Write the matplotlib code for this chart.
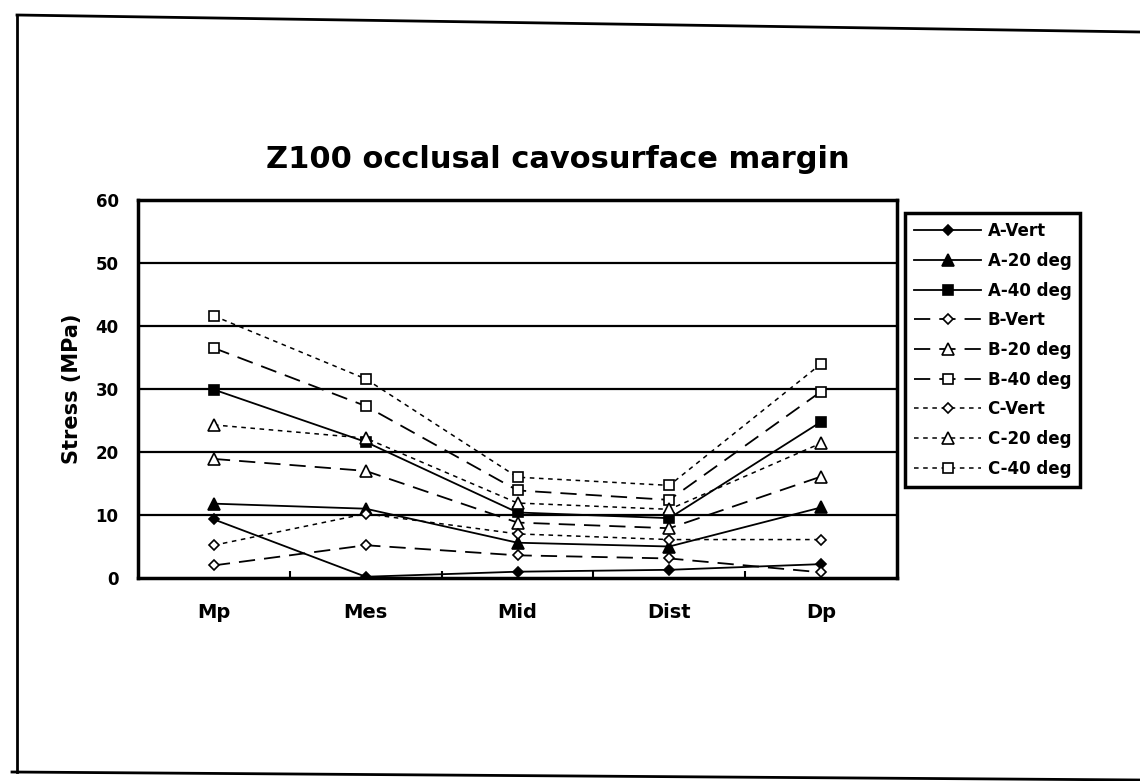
import matplotlib
matplotlib.use('Agg')
import matplotlib.pyplot as plt
from matplotlib.lines import Line2D

plt.rcParams['font.family'] = ['DejaVu Sans']
plt.rcParams['font.weight'] = 'bold'

# Data
positions = ["Mp", "Mes", "Mid", "Dist", "Dp"]
a_vert = [9.3, 0.2, 1.0, 1.3, 2.2]
a_20 = [11.8, 11.0, 5.6, 5.0, 11.2]
a_40 = [29.9, 21.6, 10.4, 9.5, 24.8]
b_vert = [2.0, 5.2, 3.6, 3.1, 0.9]
b_20 = [18.9, 17.0, 8.8, 7.9, 16.1]
b_40 = [36.5, 27.3, 13.9, 12.4, 29.6]
c_vert = [5.2, 10.2, 7.0, 6.1, 6.1]
c_20 = [24.3, 22.2, 11.9, 10.9, 21.4]
c_40 = [41.6, 31.6, 16.0, 14.7, 34.0]

labels = ["A-Vert", "A-20 deg", "A-40 deg", "B-Vert", "B-20 deg",
          "B-40 deg", "C-Vert", "C-20 deg", "C-40 deg"]
series = [a_vert, a_20, a_40, b_vert, b_20, b_40, c_vert, c_20, c_40]

fig = plt.figure(figsize=(11.4, 7.81), dpi=100)
ax = fig.add_axes([138 / 1140, 1 - 578 / 781, (897 - 138) / 1140, (578 - 200) / 781])

x = list(range(len(positions)))
markers = ['D', '^', 's'] * 3
msizes = [5, 8, 7] * 3
for i, (vals, lab) in enumerate(zip(series, labels)):
    group = i // 3
    if group == 0:
        ls, fc, lw = '-', 'black', 1.3
    elif group == 1:
        ls, fc, lw = (0, (9, 5)), 'white', 1.3
    else:
        ls, fc, lw = (0, (3, 3)), 'white', 1.1
    ax.plot(x, vals, linestyle=ls, color='black', linewidth=lw,
            marker=markers[i], markersize=msizes[i], markerfacecolor=fc,
            markeredgecolor='black', markeredgewidth=1.2, label=lab, zorder=3)

ax.set_xlim(-0.5, 4.5)
ax.set_ylim(0, 60)
ax.set_yticks(range(0, 61, 10))
ax.set_xticks(x)
ax.set_xticklabels(positions)
ax.set_xticks([0.5, 1.5, 2.5, 3.5], minor=True)
ax.tick_params(axis='x', which='minor', direction='in', length=5, width=1.5)
ax.tick_params(axis='x', which='major', length=0, pad=18, labelsize=14)
ax.tick_params(axis='y', length=0, pad=14, labelsize=12)
for lab in ax.get_xticklabels() + ax.get_yticklabels():
    lab.set_fontweight('bold')

for yv in range(10, 60, 10):
    ax.axhline(yv, color='black', linewidth=1.6, zorder=1)
for sp in ax.spines.values():
    sp.set_linewidth(2.5)

ax.set_ylabel("Stress (MPa)", fontsize=15, fontweight='bold', labelpad=10)
fig.text(558 / 1140, 1 - 160 / 781, "Z100 occlusal cavosurface margin",
         ha='center', va='center', fontsize=22, fontweight='bold')

leg = ax.legend(loc='upper left', bbox_to_anchor=(905 / 1140, 1 - 213 / 781),
                bbox_transform=fig.transFigure, frameon=True, fancybox=False,
                edgecolor='black', framealpha=1, fontsize=12, handlelength=4.0,
                labelspacing=0.7, borderpad=0.55, handletextpad=0.4,
                borderaxespad=0)
leg.get_frame().set_linewidth(2.5)
for t in leg.get_texts():
    t.set_fontweight('bold')

# scanned page border
fig.add_artist(Line2D([17 / 1140, 1.0], [1 - 15 / 781, 1 - 32 / 781],
                      transform=fig.transFigure, color='black', linewidth=2))
fig.add_artist(Line2D([17 / 1140, 17 / 1140], [1 - 15 / 781, 1 - 772 / 781],
                      transform=fig.transFigure, color='black', linewidth=2))
fig.add_artist(Line2D([12 / 1140, 1.0], [1 - 772 / 781, 1 - 780 / 781],
                      transform=fig.transFigure, color='black', linewidth=2))

fig.savefig("out.png", dpi=100)
